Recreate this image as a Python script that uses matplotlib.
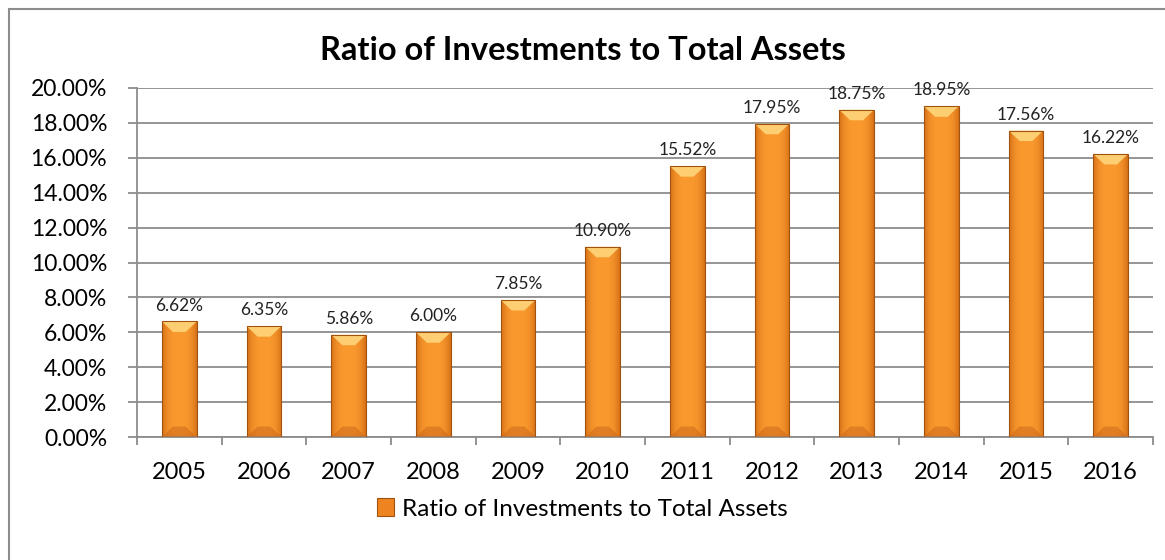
import numpy as np
import matplotlib.pyplot as plt
from matplotlib.patches import Rectangle, Polygon
from matplotlib.ticker import FuncFormatter, MultipleLocator

years = ['2005', '2006', '2007', '2008', '2009', '2010',
         '2011', '2012', '2013', '2014', '2015', '2016']
ratios = [6.62, 6.35, 5.86, 6.00, 7.85, 10.90,
          15.52, 17.95, 18.75, 18.95, 17.56, 16.22]
series_name = 'Ratio of Investments to Total Assets'

plt.rcParams['font.family'] = ['Lato', 'DejaVu Sans']

W, H = 1165, 560
fig = plt.figure(figsize=(W / 100, H / 100), dpi=100)
ax = fig.add_axes([137 / W, 1 - 437 / H, (1153 - 137) / W, (437 - 88) / H])

# outer chart border (only top/left fall inside the canvas)
fig.patches.append(Rectangle((9 / W, -0.1), 1.2, 1 - 9 / H + 0.1,
                             transform=fig.transFigure, fill=False,
                             edgecolor='#8c8c8c', linewidth=1.5))

x = np.arange(len(years))
bw = 0.41
ymax = 20.0

# horizontal shading across each bar: darker rim, bright centre
shade = np.linspace(-1, 1, 64)
prof = 1 - np.abs(shade) ** 3
c_edge = np.array([0.84, 0.44, 0.09])
c_mid = np.array([0.98, 0.60, 0.18])
grad = c_edge[None, :] + (c_mid - c_edge)[None, :] * prof[:, None]
grad = grad[None, :, :]

bars = ax.bar(x, ratios, width=bw, color='none', edgecolor='#a0520e',
              linewidth=0.8, zorder=3)
bevel = 0.6   # top bevel height in data units
inset = 0.13  # bevel inset from bar sides
for xi, v, b in zip(x, ratios, bars):
    im = ax.imshow(grad, extent=(xi - bw / 2, xi + bw / 2, 0, v),
                   aspect='auto', zorder=2.5, interpolation='bilinear')
    im.set_clip_path(b)
    # light top bevel
    ax.add_patch(Polygon([(xi - bw / 2, v), (xi + bw / 2, v),
                          (xi + bw / 2 - inset, v - bevel),
                          (xi - bw / 2 + inset, v - bevel)],
                         closed=True, facecolor='#fdcf72', edgecolor='none',
                         zorder=2.7))
    # slightly darker foot
    ax.add_patch(Polygon([(xi - bw / 2, 0), (xi + bw / 2, 0),
                          (xi + bw / 2 - inset, bevel),
                          (xi - bw / 2 + inset, bevel)],
                         closed=True, facecolor='#c9651a', edgecolor='none',
                         alpha=0.5, zorder=2.7))
    ax.text(xi, v + 0.45, f'{v:.2f}%', ha='center', va='bottom',
            fontsize=12.5, color='#222222', zorder=4)

ax.set_xlim(-0.5, len(years) - 0.5)
ax.set_ylim(0, ymax)
ax.yaxis.set_major_locator(MultipleLocator(2))
ax.yaxis.set_major_formatter(FuncFormatter(lambda v, p: f'{v:.2f}%'))
ax.grid(axis='y', color='#8c8c8c', linewidth=1.3, zorder=1)
ax.set_axisbelow(True)

ax.set_xticks(x)
ax.set_xticklabels(years)
ax.set_xticks(np.arange(-0.5, len(years)), minor=True)
ax.tick_params(axis='x', which='major', length=0, pad=18, labelsize=17)
ax.tick_params(axis='x', which='minor', length=6, width=1.3, color='#8c8c8c')
ax.tick_params(axis='y', length=6.5, width=1.3, color='#8c8c8c', pad=15,
               labelsize=16.5)

for s in ['top', 'right']:
    ax.spines[s].set_visible(False)
for s in ['left', 'bottom']:
    ax.spines[s].set_color('#8c8c8c')
    ax.spines[s].set_linewidth(1.3)

fig.text(0.5, 1 - 51 / H, 'Ratio of Investments to Total Assets',
         ha='center', va='center', fontsize=23.5, fontweight='bold')

handle = Rectangle((0, 0), 1, 1, facecolor='#ee8420', edgecolor='#a0520e',
                   linewidth=0.8)
ax.legend([handle], [series_name], loc='center',
          bbox_to_anchor=(0.5, 1 - 509 / H), bbox_transform=fig.transFigure,
          frameon=False, fontsize=17.5, handlelength=0.7, handleheight=0.7,
          handletextpad=0.3)

fig.savefig('out.png', dpi=100)
